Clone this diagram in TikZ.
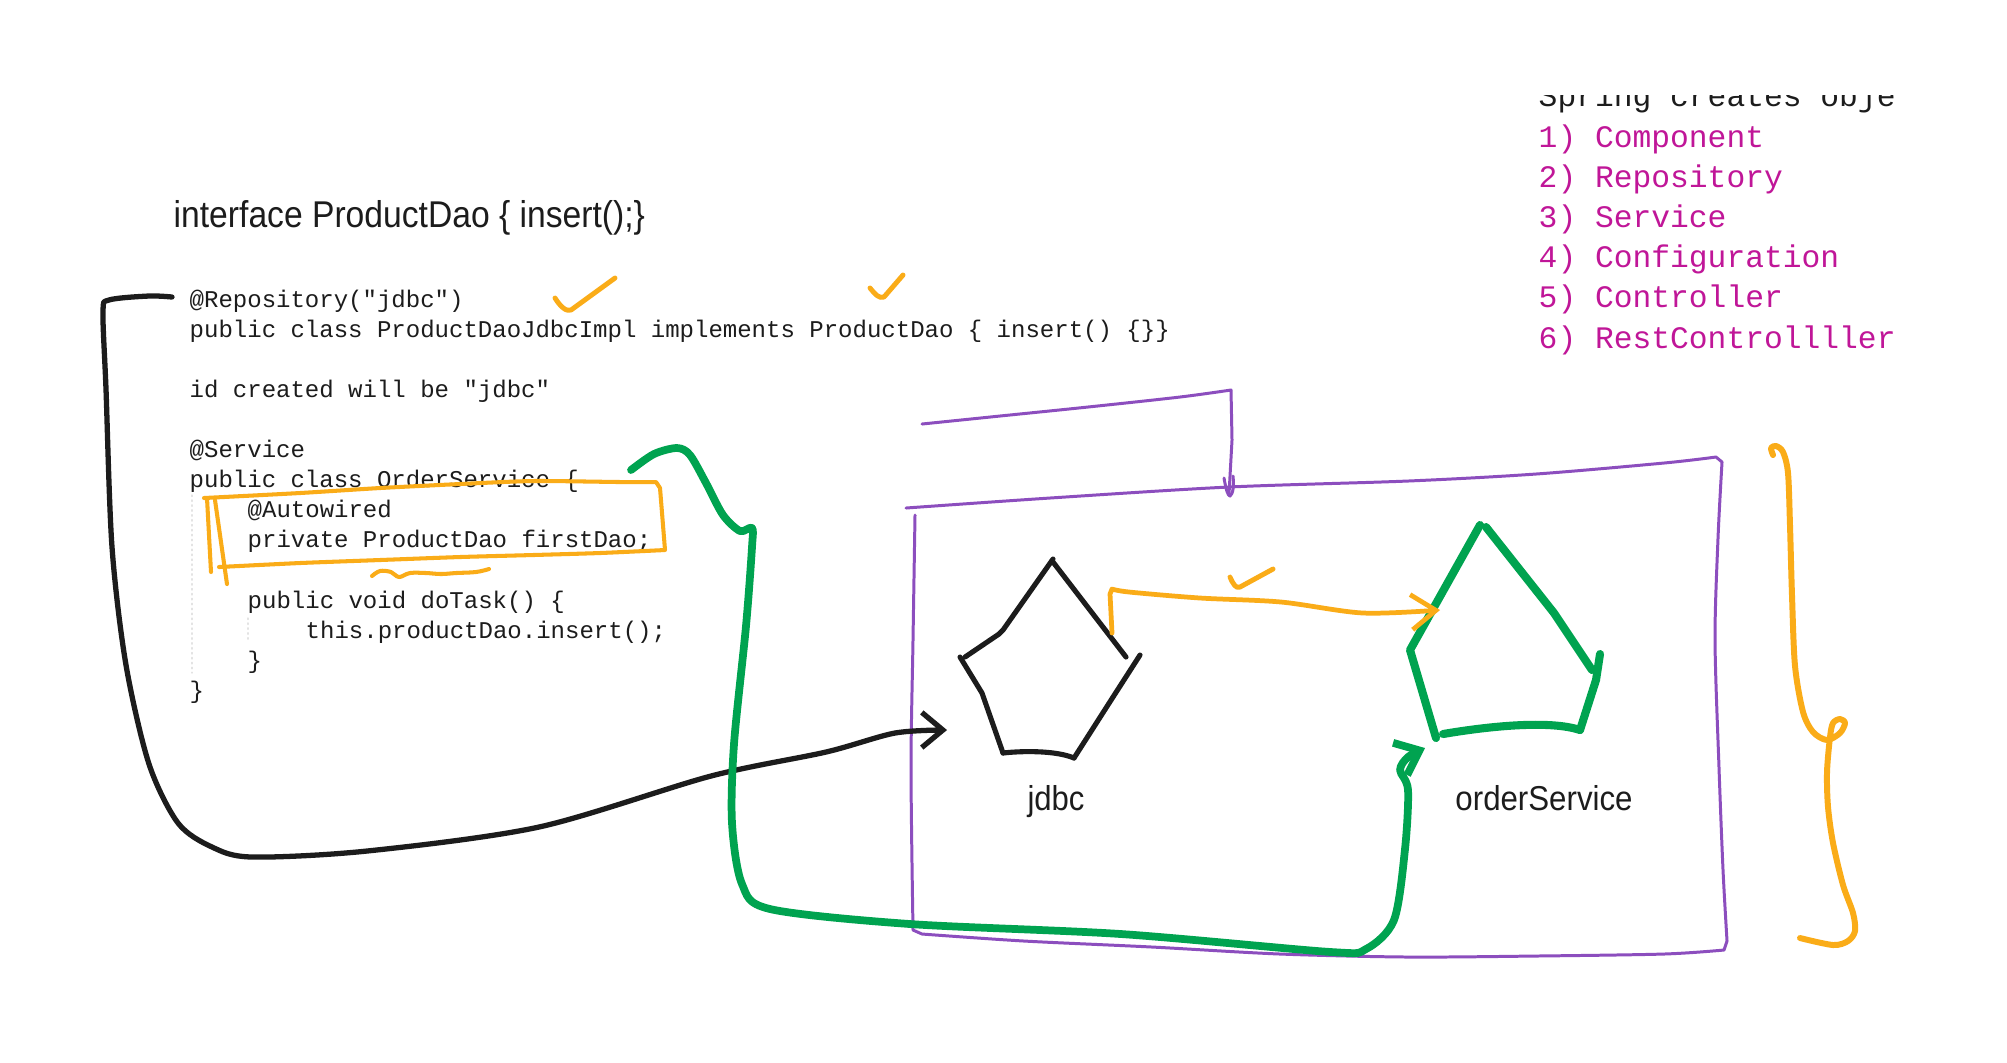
\documentclass[tikz,border=0pt]{standalone}
\usepackage{fontspec}
\usetikzlibrary{arrows.meta}
\newfontfamily\codefont{Liberation Mono}
\newfontfamily\handfont{Liberation Sans}
\definecolor{ink}{RGB}{28,28,28}
\definecolor{orng}{RGB}{250,172,24}
\definecolor{grn}{RGB}{0,163,80}
\definecolor{purp}{RGB}{140,78,190}
\definecolor{mag}{RGB}{192,22,152}
\tikzset{
  blk/.style={draw=ink, line width=1.5pt},
  grnline/.style={draw=grn, line width=2.2pt},
  orline/.style={draw=orng, line width=1.15pt},
  purline/.style={draw=purp, line width=0.85pt},
  code/.style={font=\codefont\fontsize{6.83}{8}\selectfont, text=ink, inner sep=0pt, anchor=base west},
  listtxt/.style={font=\codefont\fontsize{8.9}{11}\selectfont, text=mag, inner sep=0pt, anchor=base west},
  hand/.style={font=\handfont, text=ink, inner sep=0pt}
}
\begin{document}
\begin{tikzpicture}[x=0.01cm,y=-0.01cm,line cap=round,line join=round]
\fill[white] (0,0) rectangle (2007,1062);
\path[use as bounding box] (0,0) rectangle (2007,1062);

% ---------- texts ----------
\node[hand, anchor=base west] (iface) at (173,227) {\resizebox{4.71cm}{0.27cm}{interface ProductDao \{ insert();\}}};

\node[code] (c0) at (189,307) {@Repository("jdbc")};
\node[code] (c1) at (189,337) {public class ProductDaoJdbcImpl implements ProductDao \{ insert() \{\}\}};
\node[code] (c3) at (189,397.3) {id created will be "jdbc"};
\node[code] (c5) at (189,457.5) {@Service};
\node[code] (c6) at (189,487.6) {public class OrderService \{};
\node[code] (c7) at (247,517.7) {@Autowired};
\node[code] (c8) at (247,547.8) {private ProductDao firstDao;};
\node[code] (c10) at (247,608) {public void doTask() \{};
\node[code] (c11) at (305,638) {this.productDao.insert();};
\node[code] (c12) at (247,668) {\}};
\node[code] (c13) at (189,698) {\}};
\draw[gray!22, line width=0.4pt, densely dotted] (192,495) -- (192,673);
\draw[gray!22, line width=0.4pt, densely dotted] (248,618) -- (248,642);

\begin{scope}
  \clip (1500,95) rectangle (2000,130);
  \node[listtxt, text=ink] (spring) at (1538,106) {Spring creates obje};
\end{scope}
\node[listtxt] (l1) at (1538,147) {1) Component};
\node[listtxt] (l2) at (1538,187.2) {2) Repository};
\node[listtxt] (l3) at (1538,227.4) {3) Service};
\node[listtxt] (l4) at (1538,267.6) {4) Configuration};
\node[listtxt] (l5) at (1538,307.8) {5) Controller};
\node[listtxt] (l6) at (1538,348) {6) RestControllller};

\node[hand, anchor=base] (jdbcLbl) at (1056,810) {\resizebox{0.57cm}{0.25cm}{jdbc}};
\node[hand, anchor=base] (osLbl) at (1544,810) {\resizebox{1.77cm}{0.25cm}{orderService}};

% ---------- named points ----------
\coordinate (repoStart) at (172,297);
\coordinate (jdbcIn) at (947,730);
\coordinate (fieldOut) at (631,470);
\coordinate (osIn) at (1425,748);
\coordinate (jdbcR) at (1112,633);
\coordinate (osL) at (1440,610);

% ---------- purple container ----------
\draw[purline] plot[smooth, tension=0.5] coordinates {(906,508) (1050,498) (1229,487) (1408,481) (1536,474) (1664,463) (1716,457)}
  -- (1722,462) -- plot[smooth, tension=0.5] coordinates {(1722,462) (1718,538) (1715,640) (1719,768) (1723,870) (1727,941)}
  -- (1724,950) -- plot[smooth, tension=0.5] coordinates {(1724,950) (1664,954) (1536,956) (1408,957) (1280,954) (1152,947) (1024,941) (922,934)}
  -- (913,930);
\draw[purline] plot[smooth, tension=0.5] coordinates {(913,930) (911,768) (913,640) (915,515)};
\draw[purline] plot[smooth, tension=0.5] coordinates {(922,424) (1000,416) (1088,407) (1180,397) (1231,390)}
  -- (1232,440) -- (1229,494);
\draw[purline] (1224,478) .. controls (1226,490) and (1228,496) .. (1230,496) .. controls (1233,494) and (1234,486) .. (1233,476);

% ---------- jdbc pentagon ----------
\begin{scope}[blk, line width=1.45pt]
\draw (1053,559) -- (1003,630) -- (999,634) -- (965,657);
\draw (1053,562) -- (1126,657);
\draw (1140,655) -- (1113,697) -- (1074,758);
\draw (1074,758) .. controls (1055,750) and (1020,751) .. (1003,753);
\draw (1003,753) -- (982,693) -- (960,657);
\end{scope}

% ---------- orderService pentagon ----------
\begin{scope}[grnline, line width=2.3pt]
\draw (1480,525) -- (1410,650) -- (1436,738);
\draw (1443,734) .. controls (1490,726) and (1550,720) .. (1580,730);
\draw (1580,730) -- (1596,680) -- (1600,654);
\draw (1486,527) -- (1554,613) -- (1592,670);
\end{scope}

% ---------- connectors ----------
\draw[blk, -{Straight Barb[length=6pt,width=10pt]}] plot[smooth, tension=0.5] coordinates {(repoStart) (149,296) (109,300) (103,312) (106,389) (112,547) (126,665) (149,764) (178,823) (212,847) (252,857) (367,851) (539,827) (711,776) (826,752) (895,733) (jdbcIn)};

\draw[grnline, -{Straight Barb[length=6pt,width=10pt]}] plot[smooth, tension=0.5] coordinates {(fieldOut) (654,454) (677,448) (690,455) (706,483) (723,515) (740,531) (752,528) (752,547) (746,626) (734,744) (732,823) (742,884) (770,909) (910,924) (1121,934) (1331,952) (1366,949) (1394,920) (1405,849) (1408,790) (1400,770) (1408,757) (osIn)};

\draw[orline, line width=1.35pt, -{Straight Barb[length=7pt,width=10pt]}] (jdbcR) -- (1110,594) -- plot[smooth, tension=0.5] coordinates {(1112,589) (1129,592) (1200,598) (1281,602) (1363,613) (osL)};

% ---------- orange marks ----------
\begin{scope}[orline, line width=1.4pt]
\draw (555,298) .. controls (560,306) and (566,312) .. (571,310) -- (615,278);
\draw (870,288) .. controls (875,294) and (879,299) .. (884,297) -- (903,275);
\draw (1230,577) .. controls (1233,584) and (1236,589) .. (1240,587) -- (1273,569);
\end{scope}
\draw[orline] plot[smooth, tension=0.4] coordinates {(204,498) (300,493) (380,488) (460,484) (533,481) (620,482) (656,482)} -- (660,488) -- (665,550)
  -- plot[smooth, tension=0.4] coordinates {(665,550) (600,553) (533,555) (460,557) (380,560) (300,563) (219,567)};
\draw[orline] (207,498) -- (211,572);
\draw[orline] (215,500) -- (227,584);
\draw[orline] plot[smooth, tension=0.6] coordinates {(372,576) (380,571) (391,572) (399,577) (410,573) (426,573) (441,574) (456,573) (476,572) (489,569)};

% ---------- right brace ----------
\draw[orline, line width=1.7pt] plot[smooth, tension=0.5] coordinates {(1773,455) (1771,448) (1776,446) (1783,452) (1788,473) (1790,526) (1792,596) (1795,666) (1803,712) (1813,732) (1827,740) (1840,733) (1845,723) (1840,719) (1833,723) (1830,737) (1827,772) (1828,807) (1833,843) (1843,885) (1853,913) (1855,931) (1848,941) (1833,945) (1800,938)};
\end{tikzpicture}
\end{document}
